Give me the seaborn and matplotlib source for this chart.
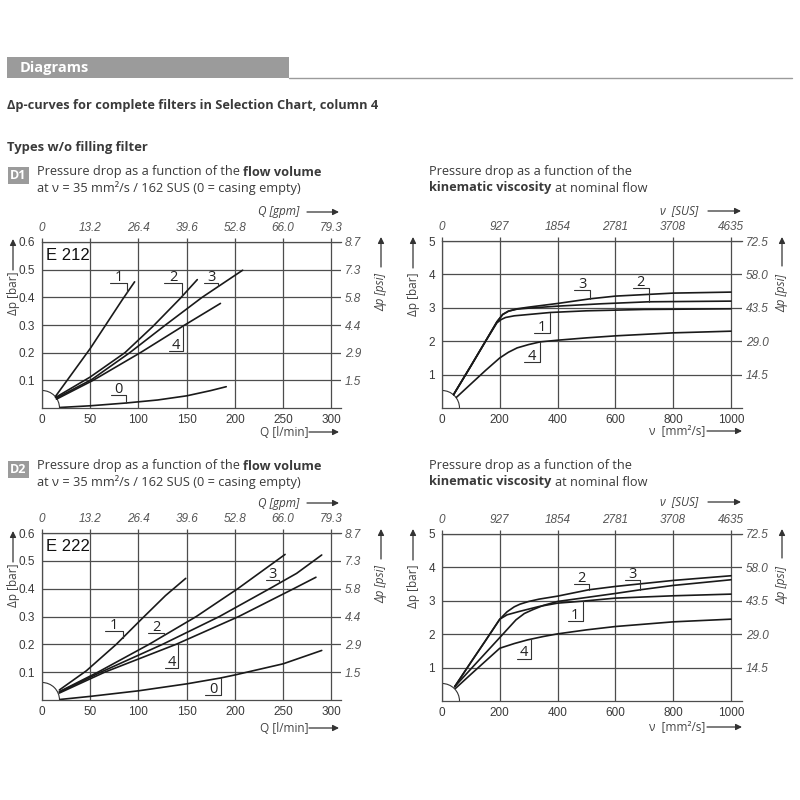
import numpy as np
import pandas as pd
import matplotlib
matplotlib.use("Agg")
import matplotlib.pyplot as plt
import seaborn as sns
from matplotlib.patches import Arc, Rectangle, FancyArrowPatch
from matplotlib.lines import Line2D
from matplotlib.transforms import ScaledTranslation

# E 212 - pressure drop [bar] vs flow volume Q [l/min]
e212_q0 = [19, 50, 87, 120, 150, 175, 191]
e212_p0 = [0.002, 0.008, 0.018, 0.029, 0.044, 0.063, 0.077]
e212_q1 = [14, 50, 83, 96]
e212_p1 = [0.042, 0.215, 0.39, 0.456]
e212_q2 = [14, 50, 86, 115, 143, 161]
e212_p2 = [0.038, 0.112, 0.2, 0.295, 0.395, 0.464]
e212_q3 = [15, 52, 91, 128, 166, 208]
e212_p3 = [0.036, 0.104, 0.2, 0.3, 0.4, 0.498]
e212_q4 = [15, 53, 102, 148, 185]
e212_p4 = [0.032, 0.1, 0.2, 0.3, 0.378]

# D1 - pressure drop [bar] vs kinematic viscosity [mm2/s]
d1_v1 = [40, 100, 150, 190, 205, 220, 250, 300, 375, 500, 700, 1000]
d1_p1 = [0.40, 1.26, 1.99, 2.55, 2.65, 2.71, 2.76, 2.80, 2.86, 2.91, 2.95, 2.97]
d1_v2 = [40, 100, 150, 190, 210, 230, 260, 300, 400, 550, 715, 1000]
d1_p2 = [0.40, 1.26, 1.99, 2.58, 2.80, 2.90, 2.96, 2.99, 3.05, 3.12, 3.18, 3.20]
d1_v3 = [40, 100, 150, 190, 210, 230, 260, 300, 400, 513, 600, 800, 1000]
d1_p3 = [0.40, 1.26, 1.99, 2.58, 2.80, 2.90, 2.97, 3.02, 3.13, 3.27, 3.35, 3.44, 3.47]
d1_v4 = [50, 100, 150, 200, 230, 260, 300, 340, 400, 500, 600, 800, 1000]
d1_p4 = [0.32, 0.72, 1.12, 1.50, 1.67, 1.80, 1.90, 1.98, 2.03, 2.10, 2.16, 2.25, 2.30]

# E 222 - pressure drop [bar] vs flow volume Q [l/min]
e222_q0 = [19, 50, 100, 150, 185, 200, 250, 290]
e222_p0 = [0.002, 0.013, 0.033, 0.058, 0.079, 0.09, 0.13, 0.178]
e222_q1 = [18, 46, 77, 103, 128, 149]
e222_p1 = [0.036, 0.105, 0.2, 0.29, 0.375, 0.437]
e222_q2 = [18, 58, 111, 160, 203, 252]
e222_p2 = [0.03, 0.1, 0.2, 0.3, 0.4, 0.523]
e222_q3 = [18, 61, 125, 184, 236, 264, 290]
e222_p3 = [0.028, 0.1, 0.2, 0.3, 0.4, 0.455, 0.521]
e222_q4 = [18, 65, 139, 204, 261, 284]
e222_p4 = [0.025, 0.1, 0.2, 0.3, 0.4, 0.441]

# D2 - pressure drop [bar] vs kinematic viscosity [mm2/s]
d2_v1 = [44, 100, 150, 200, 225, 267, 336, 400, 487, 600, 800, 1000]
d2_p1 = [0.43, 1.16, 1.80, 2.45, 2.58, 2.68, 2.83, 2.93, 2.99, 3.08, 3.15, 3.20]
d2_v2 = [44, 100, 150, 200, 225, 250, 270, 300, 336, 400, 508, 600, 800, 1000]
d2_p2 = [0.43, 1.16, 1.80, 2.45, 2.67, 2.82, 2.90, 2.98, 3.05, 3.14, 3.33, 3.43, 3.61, 3.75]
d2_v3 = [44, 100, 150, 200, 256, 285, 313, 350, 400, 500, 600, 686, 800, 1000]
d2_p3 = [0.43, 0.96, 1.43, 1.90, 2.43, 2.62, 2.73, 2.86, 2.98, 3.10, 3.22, 3.33, 3.46, 3.63]
d2_v4 = [47, 100, 150, 200, 250, 296, 350, 400, 500, 600, 800, 1000]
d2_p4 = [0.38, 0.80, 1.19, 1.58, 1.72, 1.83, 1.93, 2.01, 2.13, 2.23, 2.37, 2.45]

# axis ticks
flow_ticks = [0, 50, 100, 150, 200, 250, 300]
gpm_labels = ["0", "13.2", "26.4", "39.6", "52.8", "66.0", "79.3"]
bar_flow_ticks = [0.1, 0.2, 0.3, 0.4, 0.5, 0.6]
psi_flow_labels = ["1.5", "2.9", "4.4", "5.8", "7.3", "8.7"]
visc_ticks = [0, 200, 400, 600, 800, 1000]
sus_labels = ["0", "927", "1854", "2781", "3708", "4635"]
bar_visc_ticks = [1, 2, 3, 4, 5]
psi_visc_labels = ["14.5", "29.0", "43.5", "58.0", "72.5"]

W, H = 800, 800
TXT = "#3a3a3a"
GRID = "#4d4d4d"
BOX = "#9b9b9b"

sns.set_theme(style="white")
plt.rcParams["font.family"] = ["Open Sans", "DejaVu Sans"]

fig = plt.figure(figsize=(8, 8), dpi=100)


def px(x, y):
    return x / W, 1 - y / H


def rect(x0, y0, x1, y1):
    return [x0 / W, 1 - y1 / H, (x1 - x0) / W, (y1 - y0) / H]


def arrow(x0, y0, x1, y1):
    fig.add_artist(FancyArrowPatch(px(x0, y0), px(x1, y1), transform=fig.transFigure,
                                   arrowstyle="-|>", mutation_scale=9, lw=0.9,
                                   color="#333333", shrinkA=0, shrinkB=0))


def rich(x, y, parts, size=9.2):
    r = fig.canvas.get_renderer()
    gap = 0.27 * size * 100 / 72
    cx = x
    for s, w in parts:
        t = fig.text(*px(cx, y), s, fontsize=size, fontweight=w, va="center",
                     ha="left", color=TXT)
        cx += t.get_window_extent(r).width + gap


def frame(xs, ps, names):
    rows = []
    for n, x, p in zip(names, xs, ps):
        rows.append(pd.DataFrame({"x": x, "p": p, "curve": n}))
    return pd.concat(rows, ignore_index=True)


def panel(r, xs, ps, names, xticks, xhi, yticks, top_labels, right_labels, xfmt, yfmt):
    ax = fig.add_axes(r)
    df = frame(xs, ps, names)
    sns.lineplot(data=df, x="x", y="p", units="curve", estimator=None, sort=False,
                 color="#1a1a1a", lw=1.2, ax=ax, legend=False)
    ax.set_xlim(0, xhi)
    ax.set_ylim(0, yticks[-1])
    ax.set_xticks(xticks, labels=[xfmt(v) for v in xticks])
    ax.set_yticks(yticks, labels=[yfmt(v) for v in yticks])
    ax.grid(True, color=GRID, lw=0.9)
    ax.set_axisbelow(True)
    ax.set_xlabel("")
    ax.set_ylabel("")
    for s in ["left", "bottom", "top"]:
        ax.spines[s].set_color(GRID)
        ax.spines[s].set_linewidth(0.9)
    ax.spines["right"].set_visible(False)
    ax.tick_params(axis="x", length=0, pad=4, labelsize=8.5, labelcolor=TXT,
                   labelfontfamily="Liberation Sans")
    ax.tick_params(axis="y", length=0, pad=5, labelsize=8.5, labelcolor=TXT,
                   labelfontfamily="Liberation Sans")

    top = ax.secondary_xaxis("top")
    top.set_xticks(xticks, labels=top_labels)
    top.tick_params(length=3, width=0.9, color=GRID, pad=3, labelsize=8.5,
                    labelcolor="#555555", labelfontfamily="Liberation Sans")
    top.spines["top"].set_visible(False)
    for lab in top.get_xticklabels():
        lab.set_fontstyle("italic")

    right = ax.secondary_yaxis("right")
    right.set_yticks(yticks, labels=right_labels)
    right.tick_params(length=0, pad=3, labelsize=8.5, labelcolor="#555555",
                      labelfontfamily="Liberation Sans")
    right.spines["right"].set_visible(False)
    for lab in right.get_yticklabels():
        lab.set_fontstyle("italic")

    # small quarter circle at the origin
    arc = Arc((0, 0), 0.35, 0.35, theta1=0, theta2=90,
              transform=fig.dpi_scale_trans + ScaledTranslation(0, 0, ax.transData),
              color="#333333", lw=0.8)
    ax.add_artist(arc)
    return ax


def tag(ax, xs, ps, txt, lead_x, under_y, width):
    cy = np.interp(lead_x, xs, ps)
    ax.add_line(Line2D([lead_x - width, lead_x, lead_x], [under_y, under_y, cy],
                       color="#333333", lw=0.8))
    ax.annotate(txt, (lead_x - width / 2, under_y), xytext=(0, 1.5),
                textcoords="offset points", ha="center", va="baseline",
                fontsize=10.5, color="#222222")


names = ["0", "1", "2", "3", "4"]
fmt_flow_x = lambda v: f"{v:g}"
fmt_flow_y = lambda v: f"{v:.1f}"
fmt_int = lambda v: f"{v:g}"

# ---------------- header ----------------
fig.add_artist(Rectangle(px(7, 78), 282 / W, 21 / H, transform=fig.transFigure,
                         color=BOX, lw=0))
fig.add_artist(Line2D([289 / W, 792 / W], [1 - 78 / H] * 2, transform=fig.transFigure,
                      color=BOX, lw=1))
fig.text(*px(20, 68), "Diagrams", color="white", fontsize=10.5, fontweight="bold",
         va="center")
fig.text(*px(7, 105), "\u0394p-curves for complete filters in Selection Chart, column 4",
         color=TXT, fontsize=9.2, fontweight="bold", va="center")
fig.text(*px(7, 148), "Types w/o filling filter", color=TXT, fontsize=9.4,
         fontweight="bold", va="center")

for tagtxt, y1 in [("D1", 172), ("D2", 466)]:
    fig.add_artist(Rectangle(px(8, y1 + 12), 21 / W, 17 / H, transform=fig.transFigure,
                             color=BOX, lw=0))
    fig.text(*px(18.5, y1 + 3.5), tagtxt, color="white", fontsize=9, fontweight="bold",
             va="center", ha="center")
    rich(37, y1, [("Pressure drop as a function of the", "normal"),
                  ("flow volume", "bold")])
    rich(37, y1 + 16, [("at \u03bd = 35 mm\u00b2/s / 162 SUS (0 = casing empty)", "normal")])
    rich(429, y1, [("Pressure drop as a function of the", "normal")])
    rich(429, y1 + 16, [("kinematic viscosity", "bold"), ("at nominal flow", "normal")])

# ---------------- D1 panels ----------------
ax1 = panel(rect(42, 242, 341, 408),
            [e212_q0, e212_q1, e212_q2, e212_q3, e212_q4],
            [e212_p0, e212_p1, e212_p2, e212_p3, e212_p4], names,
            flow_ticks, 310, bar_flow_ticks, gpm_labels, psi_flow_labels,
            fmt_flow_x, fmt_flow_y)
ax1.text(4, 0.55, "E 212", fontsize=12, va="center", ha="left", color="#111111",
         fontfamily="Liberation Sans")
tag(ax1, e212_q1, e212_p1, "1", 88.6, 0.452, 18)
tag(ax1, e212_q2, e212_p2, "2", 144.8, 0.452, 18)
tag(ax1, e212_q3, e212_p3, "3", 182.8, 0.452, 15)
tag(ax1, e212_q4, e212_p4, "4", 145.9, 0.207, 14)
tag(ax1, e212_q0, e212_p0, "0", 87.2, 0.048, 16)

ax2 = panel(rect(442, 241, 742, 408),
            [d1_v1, d1_v2, d1_v3, d1_v4], [d1_p1, d1_p2, d1_p3, d1_p4], names[1:],
            visc_ticks, 1038, bar_visc_ticks, sus_labels, psi_visc_labels,
            fmt_int, fmt_int)
tag(ax2, d1_v3, d1_p3, "3", 513, 3.52, 55)
tag(ax2, d1_v2, d1_p2, "2", 715, 3.60, 54)
tag(ax2, d1_v1, d1_p1, "1", 373, 2.25, 53)
tag(ax2, d1_v4, d1_p4, "4", 338, 1.38, 53)

# ---------------- D2 panels ----------------
ax3 = panel(rect(42, 533, 341, 700),
            [e222_q0, e222_q1, e222_q2, e222_q3, e222_q4],
            [e222_p0, e222_p1, e222_p2, e222_p3, e222_p4], names,
            flow_ticks, 310, bar_flow_ticks, gpm_labels, psi_flow_labels,
            fmt_flow_x, fmt_flow_y)
ax3.text(4, 0.55, "E 222", fontsize=12, va="center", ha="left", color="#111111",
         fontfamily="Liberation Sans")
tag(ax3, e222_q1, e222_p1, "1", 83.8, 0.249, 18)
tag(ax3, e222_q2, e222_p2, "2", 126.9, 0.240, 17)
tag(ax3, e222_q3, e222_p3, "3", 246, 0.431, 14)
tag(ax3, e222_q4, e222_p4, "4", 140.7, 0.116, 13)
tag(ax3, e222_q0, e222_p0, "0", 185.5, 0.018, 16)

ax4 = panel(rect(442, 534, 742, 701),
            [d2_v1, d2_v2, d2_v3, d2_v4], [d2_p1, d2_p2, d2_p3, d2_p4], names[1:],
            visc_ticks, 1038, bar_visc_ticks, sus_labels, psi_visc_labels,
            fmt_int, fmt_int)
tag(ax4, d2_v2, d2_p2, "2", 508, 3.51, 52)
tag(ax4, d2_v3, d2_p3, "3", 686, 3.63, 52)
tag(ax4, d2_v1, d2_p1, "1", 487, 2.40, 52)
tag(ax4, d2_v4, d2_p4, "4", 307, 1.27, 49)

# ---------------- axis titles with arrows ----------------
LAB = "#444444"
for dy_top, dy_bot, dy_y in [(0, 0, 0), (291, 296, 292)]:
    # flow panels
    fig.text(*px(13, 293 + dy_y), "\u0394p [bar]", rotation=90, fontsize=8.5,
             color=LAB, ha="center", va="center")
    arrow(13, 270 + dy_y, 13, 239 + dy_y)
    fig.text(*px(381, 292 + dy_y), "\u0394p [psi]", rotation=90, fontsize=8.5,
             color=LAB, ha="center", va="center", fontstyle="italic")
    arrow(381, 267 + dy_y, 381, 237 + dy_y)
    fig.text(*px(284, 432 + dy_bot), "Q [l/min]", fontsize=8.5, color=LAB,
             ha="center", va="center")
    arrow(309, 432 + dy_bot, 339, 432 + dy_bot)
    fig.text(*px(279, 212 + dy_top), "Q [gpm]", fontsize=8.5, color=LAB,
             ha="center", va="center", fontstyle="italic")
    arrow(307, 212 + dy_top, 339, 212 + dy_top)
    # viscosity panels
    fig.text(*px(413, 294 + dy_y), "\u0394p [bar]", rotation=90, fontsize=8.5,
             color=LAB, ha="center", va="center")
    arrow(413, 268 + dy_y, 413, 237 + dy_y)
    fig.text(*px(782, 293 + dy_y), "\u0394p [psi]", rotation=90, fontsize=8.5,
             color=LAB, ha="center", va="center", fontstyle="italic")
    arrow(782, 266 + dy_y, 782, 237 + dy_y)
    fig.text(*px(677, 431 + dy_bot), "\u03bd  [mm\u00b2/s]", fontsize=8.5, color=LAB,
             ha="center", va="center")
    arrow(707, 431 + dy_bot, 742, 431 + dy_bot)
    fig.text(*px(679, 211 + dy_top), "\u03bd  [SUS]", fontsize=8.5, color=LAB,
             ha="center", va="center", fontstyle="italic")
    arrow(708, 211 + dy_top, 741, 211 + dy_top)

fig.savefig("out.png", dpi=100, facecolor="white")
